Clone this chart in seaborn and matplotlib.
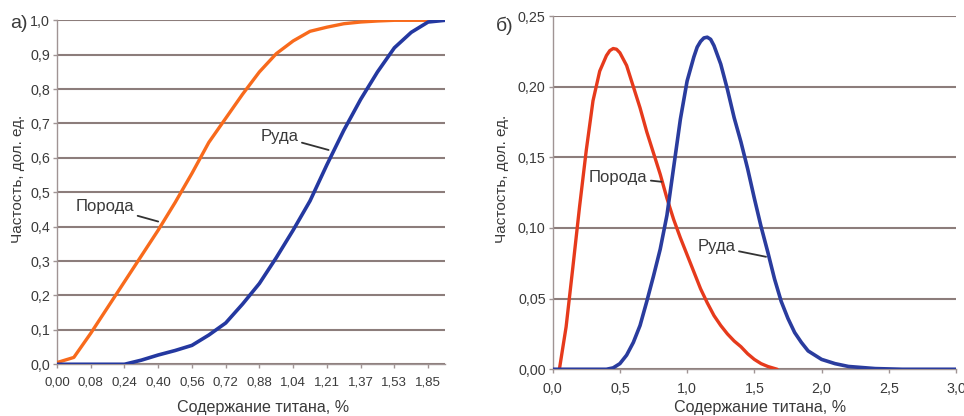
import matplotlib
matplotlib.use("Agg")
import matplotlib.pyplot as plt
import seaborn as sns
import numpy as np
import pandas as pd
from matplotlib.ticker import FuncFormatter, MultipleLocator

# ---------------- Data: panel a) cumulative curves (category index axis) ----------------
cat_labels_a = ["0,00", "0,08", "0,24", "0,40", "0,56", "0,72",
                "0,88", "1,04", "1,21", "1,37", "1,53", "1,85"]
cat_index_poroda_a = list(range(0, 23))
poroda_a = [0.005, 0.02, 0.09, 0.165, 0.24, 0.315, 0.39, 0.47, 0.555, 0.645,
            0.715, 0.785, 0.85, 0.903, 0.94, 0.968, 0.98, 0.99, 0.995, 0.998,
            1.0, 1.0, 1.0]
cat_index_ruda_a = list(range(0, 24))
ruda_a = [0.0, 0.0, 0.0, 0.0, 0.0, 0.012, 0.027, 0.04, 0.055, 0.085,
          0.12, 0.175, 0.235, 0.31, 0.39, 0.475, 0.58, 0.68, 0.77, 0.85,
          0.92, 0.965, 0.995, 1.0]

# ---------------- Data: panel б) frequency curves ----------------
ti_poroda_b = [0.05, 0.10, 0.15, 0.20, 0.25, 0.30, 0.35, 0.40, 0.425, 0.45,
               0.475, 0.50, 0.55, 0.60, 0.65, 0.70, 0.75, 0.80, 0.85, 0.90,
               0.95, 1.00, 1.05, 1.10, 1.15, 1.20, 1.25, 1.30, 1.35, 1.40,
               1.45, 1.50, 1.55, 1.60, 1.67]
poroda_b = [0.000, 0.030, 0.072, 0.115, 0.155, 0.190, 0.211, 0.222, 0.2255, 0.227,
            0.2265, 0.224, 0.215, 0.200, 0.185, 0.168, 0.153, 0.138, 0.121, 0.106,
            0.093, 0.081, 0.069, 0.057, 0.047, 0.038, 0.031, 0.025, 0.020, 0.016,
            0.011, 0.007, 0.004, 0.002, 0.000]
ti_ruda_b = [0.00, 0.10, 0.20, 0.30, 0.40, 0.45, 0.50, 0.55, 0.60, 0.65,
             0.70, 0.75, 0.80, 0.85, 0.90, 0.95, 1.00, 1.05, 1.075, 1.10,
             1.125, 1.15, 1.175, 1.20, 1.25, 1.30, 1.35, 1.40, 1.45, 1.50,
             1.55, 1.60, 1.65, 1.70, 1.75, 1.80, 1.85, 1.90, 1.95, 2.00,
             2.10, 2.20, 2.40, 2.60, 2.80, 3.00]
ruda_b = [0.000, 0.000, 0.000, 0.000, 0.000, 0.001, 0.004, 0.010, 0.019, 0.031,
          0.048, 0.066, 0.085, 0.109, 0.143, 0.177, 0.204, 0.221, 0.228, 0.232,
          0.2345, 0.235, 0.2335, 0.229, 0.216, 0.198, 0.178, 0.161, 0.142, 0.121,
          0.101, 0.083, 0.064, 0.048, 0.036, 0.026, 0.019, 0.013, 0.010, 0.007,
          0.004, 0.002, 0.0005, 0.0, 0.0, 0.0]

# ---------------- Style ----------------
sns.set_style("white")
plt.rcParams["font.family"] = ["Liberation Sans", "DejaVu Sans"]

grid_c = "#8c7d7b"
text_c = "#3a3a3a"
orange = "#f86a1c"
blue_a = "#2438a0"
red_b = "#e63a1c"
blue_b = "#2a3c9e"

fig = plt.figure(figsize=(9.64, 4.16), dpi=100)
ax1 = fig.add_axes([0.0591, 0.1243, 0.4025, 0.8269])
ax2 = fig.add_axes([0.5733, 0.1123, 0.4184, 0.8492])

df_pa = pd.DataFrame({"x": cat_index_poroda_a, "y": poroda_a})
df_ra = pd.DataFrame({"x": cat_index_ruda_a, "y": ruda_a})
sns.lineplot(data=df_pa, x="x", y="y", ax=ax1, color=orange, lw=2.4, zorder=3)
sns.lineplot(data=df_ra, x="x", y="y", ax=ax1, color=blue_a, lw=2.6, zorder=3)

df_pb = pd.DataFrame({"x": ti_poroda_b, "y": poroda_b})
df_rb = pd.DataFrame({"x": ti_ruda_b, "y": ruda_b})
sns.lineplot(data=df_pb, x="x", y="y", ax=ax2, color=red_b, lw=2.4, zorder=3)
sns.lineplot(data=df_rb, x="x", y="y", ax=ax2, color=blue_b, lw=2.6, zorder=3)

comma = lambda fmt: FuncFormatter(lambda v, p: (fmt % v).replace(".", ","))

# Panel a axes
ax1.set_xlim(0, 23)
ax1.set_ylim(0, 1.0)
ax1.set_xticks(list(range(0, 23, 2)))
ax1.set_xticklabels(cat_labels_a)
ax1.yaxis.set_major_locator(MultipleLocator(0.1))
ax1.yaxis.set_major_formatter(comma("%.1f"))

# Panel b axes
ax2.set_xlim(0, 3.0)
ax2.set_ylim(0, 0.25)
ax2.xaxis.set_major_locator(MultipleLocator(0.5))
ax2.xaxis.set_major_formatter(comma("%.1f"))
ax2.yaxis.set_major_locator(MultipleLocator(0.05))
ax2.yaxis.set_major_formatter(comma("%.2f"))

for ax in (ax1, ax2):
    ax.grid(axis="y", color=grid_c, lw=1.5, zorder=1)
    ax.grid(axis="x", visible=False)
    for s in ("top", "right"):
        ax.spines[s].set_visible(False)
    for s in ("left", "bottom"):
        ax.spines[s].set_color("#a09494")
        ax.spines[s].set_linewidth(1.0)
    ax.tick_params(axis="both", colors="#a09494",
                   labelcolor=text_c, length=3, width=1.0, direction="out",
                   left=True, bottom=True)
    ax.tick_params(axis="y", labelsize=10.3, pad=2)
    ax.set_xlabel("Содержание титана, %", fontsize=11.6, color=text_c, va="center")
    ax.set_ylabel("Частость, дол. ед.", fontsize=11, color=text_c, va="center")

ax1.tick_params(axis="x", labelsize=9.5, pad=6)
ax2.tick_params(axis="x", labelsize=10.3, pad=6)

ax1.xaxis.set_label_coords(0.532, -0.125)
ax1.yaxis.set_label_coords(-0.100, 0.539)
ax2.xaxis.set_label_coords(0.514, -0.108)
ax2.yaxis.set_label_coords(-0.1265, 0.539)

# annotations
arrow = dict(arrowstyle="-", color="#333333", lw=1.3, shrinkA=0, shrinkB=0)
ax1.annotate("Порода", xy=(6.0, 0.415), xytext=(2.85, 0.458), fontsize=12,
             color=text_c, ha="center", va="center", arrowprops=arrow,
             zorder=4)
ax1.annotate("Руда", xy=(16.1, 0.623), xytext=(13.2, 0.662), fontsize=12,
             color=text_c, ha="center", va="center", arrowprops=arrow,
             zorder=4)
ax2.annotate("Порода", xy=(0.81, 0.1327), xytext=(0.488, 0.136), fontsize=12,
             color=text_c, ha="center", va="center", arrowprops=arrow,
             zorder=4)
ax2.annotate("Руда", xy=(1.587, 0.0796), xytext=(1.22, 0.0867), fontsize=12,
             color=text_c, ha="center", va="center", arrowprops=arrow,
             zorder=4)

fig.text(19 / 964, 1 - 23 / 416, "а)", fontsize=14, color=text_c,
         ha="center", va="center")
fig.text(505 / 964, 1 - 26 / 416, "б)", fontsize=14, color=text_c,
         ha="center", va="center")

fig.savefig("out.png", dpi=100)
